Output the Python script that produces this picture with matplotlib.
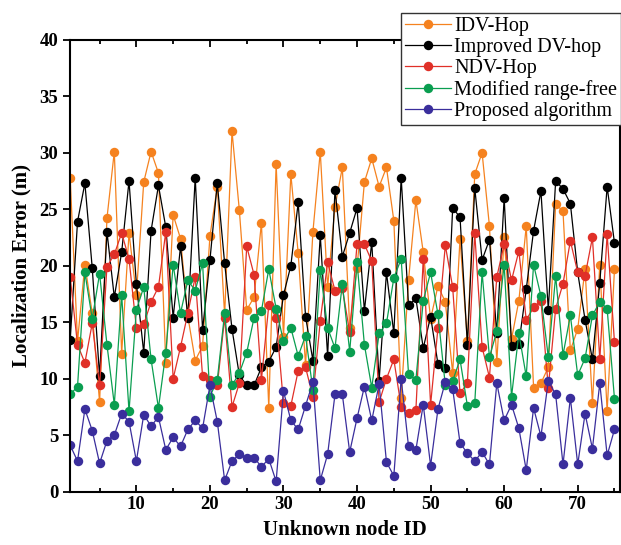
import numpy as np
import matplotlib
matplotlib.use("Agg")
import matplotlib.pyplot as plt
from matplotlib.ticker import MultipleLocator

node_id = np.arange(1, 76)

idv_hop = [27.8, 13.3, 20.1, 15.8, 7.9, 24.2, 30.1, 12.2, 22.9, 17.4,
           27.4, 30.1, 28.2, 11.4, 24.5, 22.4, 15.5, 11.6, 12.9, 22.6,
           27.0, 15.6, 31.9, 24.9, 16.1, 17.2, 23.8, 7.4, 29.0, 13.7,
           28.1, 21.1, 11.2, 23.0, 30.1, 18.1, 25.2, 28.7, 14.5, 19.8,
           27.4, 29.5, 27.0, 28.7, 24.0, 8.3, 18.7, 25.8, 21.2, 15.3,
           18.2, 16.8, 10.5, 22.4, 13.3, 28.1, 30.0, 23.5, 11.5, 22.5,
           13.5, 16.9, 23.5, 9.2, 9.6, 11.0, 25.5, 24.8, 12.5, 14.4,
           19.7, 7.8, 20.1, 7.1, 19.7]

improved_dv = [13.4, 23.9, 27.3, 19.8, 10.2, 23.0, 17.2, 21.2, 27.5, 18.4,
               12.3, 23.1, 27.1, 23.4, 15.4, 21.7, 15.4, 27.8, 14.3, 20.5,
               27.3, 20.2, 14.4, 10.3, 9.4, 9.4, 11.0, 11.5, 12.8, 17.4,
               20.0, 25.6, 15.5, 11.6, 22.7, 12.0, 26.7, 20.8, 22.9, 25.1,
               16.0, 22.1, 9.8, 19.4, 14.0, 27.8, 16.5, 17.1, 12.7, 15.5,
               11.3, 10.9, 25.1, 24.3, 13.0, 26.9, 20.5, 22.3, 14.0, 26.0,
               12.9, 13.1, 17.9, 23.1, 26.6, 16.1, 27.5, 26.8, 25.5, 19.4,
               15.2, 11.7, 18.5, 27.0, 22.0]

ndv_hop = [19.0, 13.0, 11.4, 14.9, 9.4, 19.9, 21.0, 22.9, 20.6, 14.5,
           14.8, 16.8, 18.1, 23.0, 10.0, 12.8, 15.8, 19.0, 10.2, 9.9,
           9.4, 15.4, 7.5, 9.6, 21.7, 19.2, 9.9, 16.5, 15.4, 7.8,
           7.6, 10.7, 11.0, 8.4, 15.1, 20.3, 17.8, 18.0, 14.1, 21.9,
           21.9, 20.4, 7.9, 10.0, 11.7, 7.5, 7.0, 7.2, 20.6, 7.7,
           14.5, 21.8, 18.1, 8.7, 9.6, 22.9, 12.8, 10.1, 19.0, 21.9,
           18.7, 21.3, 15.2, 16.3, 16.9, 9.2, 16.2, 18.4, 22.2, 19.4,
           19.1, 22.5, 11.7, 22.8, 13.2]

modified_rf = [8.6, 9.3, 19.4, 15.3, 19.3, 13.0, 7.7, 17.4, 7.1, 16.1,
               18.1, 11.7, 7.4, 12.3, 20.1, 15.8, 18.7, 17.8, 20.2, 8.4,
               9.9, 15.8, 9.4, 10.5, 12.3, 15.4, 16.0, 19.7, 16.2, 13.3,
               14.5, 12.0, 13.8, 9.0, 19.6, 14.5, 12.7, 18.4, 12.4, 20.3,
               13.0, 9.2, 14.0, 14.9, 18.9, 20.6, 10.4, 9.9, 16.9, 19.4,
               15.7, 9.4, 9.8, 11.7, 7.6, 7.8, 19.4, 11.9, 14.2, 20.1,
               8.4, 14.0, 10.2, 20.1, 17.3, 11.9, 19.1, 12.1, 15.6, 10.3,
               11.8, 15.6, 16.8, 16.2, 8.2]

proposed = [4.1, 2.7, 7.3, 5.4, 2.5, 4.5, 5.0, 6.9, 6.2, 2.7,
            6.8, 5.8, 6.6, 3.7, 4.8, 4.0, 5.5, 6.3, 5.6, 9.4,
            6.2, 1.0, 2.7, 3.3, 3.0, 3.0, 2.2, 2.9, 0.9, 8.9,
            6.3, 5.5, 7.6, 9.7, 1.0, 3.3, 8.6, 8.6, 3.5, 6.5,
            9.3, 6.3, 9.5, 2.6, 1.4, 10.0, 4.0, 3.7, 7.7, 2.3,
            7.3, 9.7, 9.1, 4.3, 3.4, 2.7, 3.5, 2.4, 9.6, 6.3,
            7.7, 5.6, 1.9, 7.4, 4.9, 9.8, 8.6, 2.4, 8.3, 2.4,
            6.9, 3.8, 9.6, 3.2, 5.5]

labels = ["IDV-Hop", "Improved DV-hop", "NDV-Hop", "Modified range-free", "Proposed algorithm"]
colors = ["#F5821F", "#000000", "#E03028", "#0A9E50", "#3A2E9C"]
series = [idv_hop, improved_dv, ndv_hop, modified_rf, proposed]

plt.rcParams["font.family"] = ["Liberation Serif", "DejaVu Serif"]

fig = plt.figure(figsize=(6.21, 5.45), dpi=100)
ax = fig.add_axes([0.113, 0.098, 0.886, 0.829])

for vals, c, lab in zip(series, colors, labels):
    ax.plot(node_id, vals, color=c, lw=0.9, marker="o", ms=6.8,
            markeredgewidth=0, label=lab)

ax.set_xlim(1, 75.8)
ax.set_ylim(0, 40)
ax.xaxis.set_major_locator(MultipleLocator(10))
ax.xaxis.set_minor_locator(MultipleLocator(5))
ax.yaxis.set_major_locator(MultipleLocator(5))
ax.tick_params(axis="x", which="both", bottom=True, direction="out", width=1.3)
ax.tick_params(axis="x", which="both", top=True, direction="in")
ax.tick_params(axis="x", which="major", length=5)
ax.tick_params(axis="x", which="minor", length=3)
ax.tick_params(axis="y", which="major", length=5, width=1.3)
ax.tick_params(labelsize=13.5)
for t in ax.get_xticklabels() + ax.get_yticklabels():
    t.set_fontweight("bold")
for s in ax.spines.values():
    s.set_linewidth(1.5)

ax.set_xlabel("Unknown node ID", fontsize=15, fontweight="bold", labelpad=5)
ax.set_ylabel("Localization Error (m)", fontsize=15, fontweight="bold", labelpad=6)

leg = ax.legend(loc="upper right", bbox_to_anchor=(1.002, 1.06), fontsize=14.5,
                handlelength=2.3, handletextpad=0.15, labelspacing=0.1,
                borderpad=0.2, borderaxespad=0, fancybox=False, framealpha=1,
                edgecolor="#333333")
leg.get_frame().set_linewidth(1.0)

fig.savefig("out.png", dpi=100)
